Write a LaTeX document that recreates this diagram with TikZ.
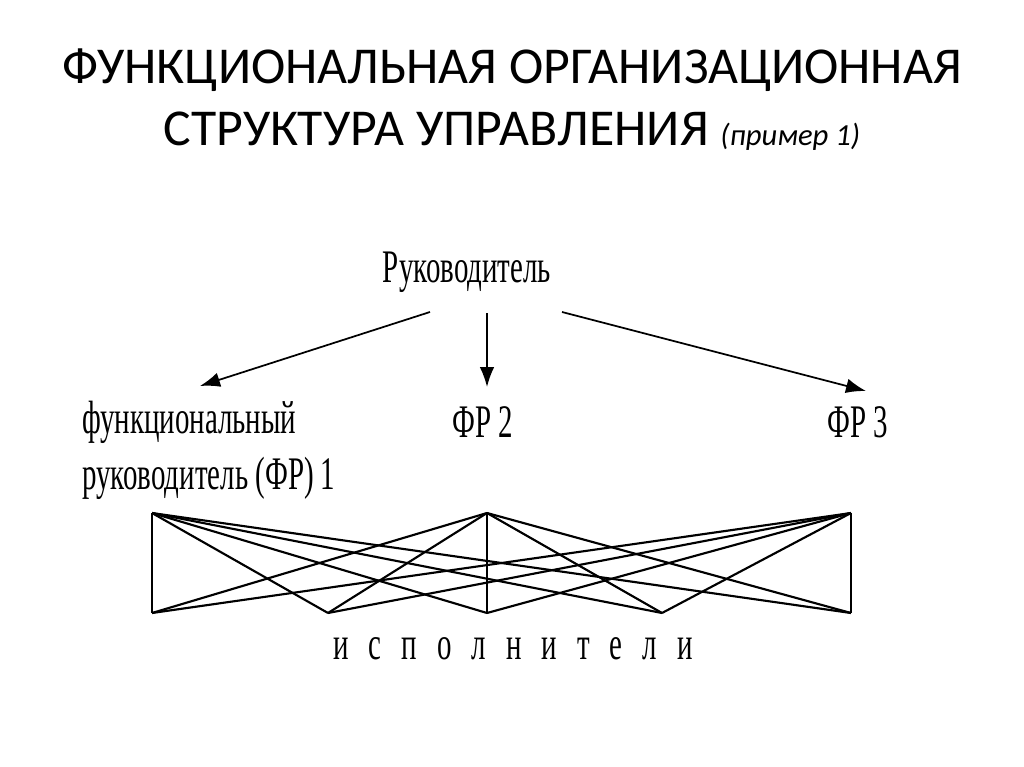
\documentclass[tikz,border=0pt]{standalone}
\usepackage{fontspec}
\setmainfont{Carlito}
\newfontfamily\diagfont[FakeStretch=0.62]{Liberation Serif}
\usetikzlibrary{arrows.meta}

\begin{document}
\begin{tikzpicture}[x=0.75pt,y=-0.75pt,>={Latex[length=15pt,width=11pt]},
    title/.style={font=\fontsize{38.8}{46.5}\selectfont,align=center},
    lbl/.style={font=\diagfont\fontsize{35}{42}\selectfont,inner sep=0pt},
    arr/.style={->,line width=1.3pt},
    net/.style={line width=1.6pt}]
  \useasboundingbox[fill=white] (0,0) rectangle (1024,767);
  \node[title] (head) at (512,100) {ФУНКЦИОНАЛЬНАЯ ОРГАНИЗАЦИОННАЯ\\
    СТРУКТУРА УПРАВЛЕНИЯ {\itshape\fontsize{23}{30}\selectfont(пример 1)}};
  \node[lbl] (boss) at (467,272) {Руководитель};
  \node[lbl,anchor=west,align=left] (fr1) at (82,450) {функциональный\\руководитель (ФР) 1};
  \node[lbl] (fr2) at (483,422) {ФР 2};
  \node[lbl] (fr3) at (858,422) {ФР 3};
  \node[lbl] (work) at (513,649) {\spaceskip=15pt и с п о л н и т е л и};
  \coordinate (s1) at (430,312);
  \coordinate (s2) at (487,313);
  \coordinate (s3) at (562,312);
  \coordinate (e1) at (200,386);
  \coordinate (e2) at (487,387);
  \coordinate (e3) at (866,391);
  \foreach \i in {1,2,3}{\draw[arr] (s\i) -- (e\i);}
  \foreach \x [count=\i] in {152,487,851}{\coordinate (t\i) at (\x,513);}
  \foreach \x [count=\i] in {152,328,487,662,851}{\coordinate (b\i) at (\x,613);}
  \foreach \i in {1,2,3}{
    \foreach \j in {1,...,5}{\draw[net] (t\i) -- (b\j);}
  }
\end{tikzpicture}
\end{document}
